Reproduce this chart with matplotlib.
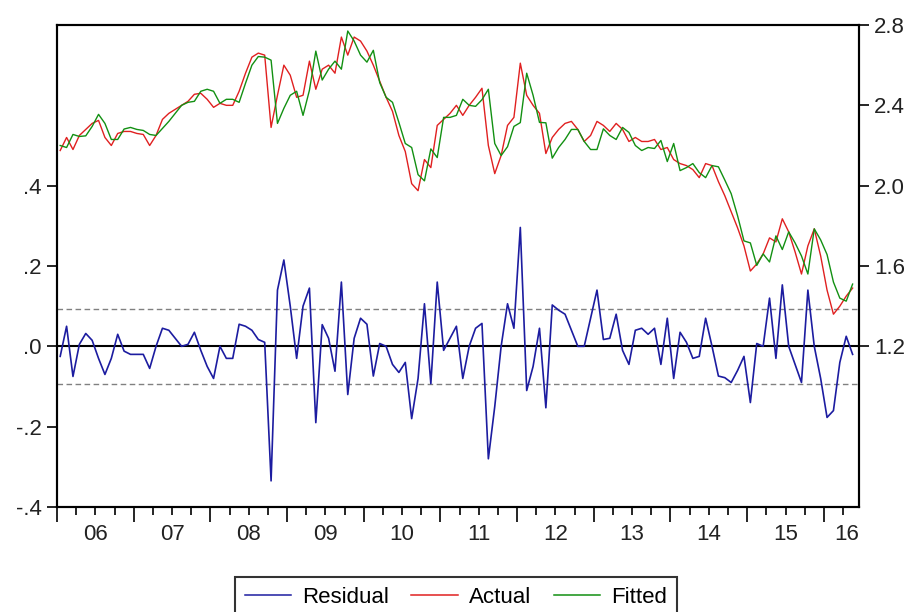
import numpy as np
import pandas as pd
import matplotlib
matplotlib.use("Agg")
import matplotlib.pyplot as plt
from matplotlib.lines import Line2D

plt.rcParams['font.family'] = ['Liberation Sans', 'DejaVu Sans']

# monthly sample 2006M01 - 2016M05
months = pd.period_range("2006-01", periods=125, freq="M")

actual = [
    2.175, 2.24, 2.18, 2.25, 2.28, 2.31, 2.325, 2.24, 2.20, 2.26, 2.27, 2.27,
    2.26, 2.255, 2.20, 2.25, 2.33, 2.36, 2.38, 2.40, 2.42, 2.455, 2.46, 2.43,
    2.39, 2.41, 2.40, 2.40, 2.47, 2.56, 2.64, 2.66, 2.65, 2.29, 2.45, 2.60,
    2.55, 2.44, 2.45, 2.62, 2.48, 2.58, 2.60, 2.56, 2.74, 2.65, 2.74, 2.72,
    2.67, 2.60, 2.52, 2.44, 2.37, 2.25, 2.17, 2.01, 1.975, 2.13, 2.09, 2.30,
    2.33, 2.36, 2.40, 2.35, 2.40, 2.44, 2.485, 2.20, 2.06, 2.15, 2.30, 2.34,
    2.61, 2.45, 2.40, 2.36, 2.16, 2.24, 2.28, 2.31, 2.32, 2.28, 2.22, 2.25,
    2.32, 2.30, 2.27, 2.31, 2.28, 2.22, 2.24, 2.22, 2.22, 2.23, 2.18, 2.19,
    2.13, 2.11, 2.10, 2.08, 2.04, 2.11, 2.10, 2.02, 1.95, 1.87, 1.79, 1.70,
    1.575, 1.61, 1.66, 1.74, 1.72, 1.835, 1.77, 1.67, 1.56, 1.70, 1.785, 1.65,
    1.48, 1.36, 1.40, 1.45, 1.49,
]

fitted = [
    2.20, 2.19, 2.255, 2.245, 2.248, 2.295, 2.355, 2.31, 2.23, 2.23, 2.282, 2.29,
    2.28, 2.275, 2.255, 2.25, 2.285, 2.32, 2.36, 2.40, 2.415, 2.42, 2.47, 2.48,
    2.47, 2.41, 2.43, 2.43, 2.415, 2.51, 2.60, 2.643, 2.64, 2.625, 2.31, 2.385,
    2.45, 2.47, 2.35, 2.475, 2.67, 2.526, 2.58, 2.62, 2.58, 2.77, 2.72, 2.65,
    2.615, 2.674, 2.513, 2.44, 2.415, 2.315, 2.21, 2.19, 2.055, 2.024, 2.183, 2.14,
    2.34, 2.34, 2.35, 2.43, 2.40, 2.395, 2.428, 2.48, 2.21, 2.15, 2.194, 2.295,
    2.314, 2.56, 2.45, 2.315, 2.313, 2.137, 2.19, 2.23, 2.28, 2.28, 2.22, 2.18,
    2.18, 2.283, 2.25, 2.23, 2.29, 2.265, 2.20, 2.175, 2.19, 2.185, 2.225, 2.12,
    2.21, 2.075, 2.09, 2.11, 2.065, 2.04, 2.10, 2.094, 2.028, 1.96, 1.85, 1.725,
    1.715, 1.603, 1.66, 1.62, 1.75, 1.682, 1.77, 1.715, 1.65, 1.56, 1.785, 1.73,
    1.657, 1.52, 1.44, 1.425, 1.51,
]

residual = [
    -0.025, 0.05, -0.075, 0.005, 0.032, 0.015, -0.03, -0.07, -0.03, 0.03, -0.012, -0.02,
    -0.02, -0.02, -0.055, 0.0, 0.045, 0.04, 0.02, 0.0, 0.005, 0.035, -0.01, -0.05,
    -0.08, 0.0, -0.03, -0.03, 0.055, 0.05, 0.04, 0.017, 0.01, -0.335, 0.14, 0.215,
    0.10, -0.03, 0.10, 0.145, -0.19, 0.054, 0.02, -0.062, 0.16, -0.12, 0.02, 0.07,
    0.055, -0.074, 0.007, 0.0, -0.045, -0.065, -0.04, -0.18, -0.08, 0.106, -0.093, 0.16,
    -0.01, 0.02, 0.05, -0.08, 0.0, 0.045, 0.057, -0.28, -0.15, 0.0, 0.106, 0.045,
    0.296, -0.11, -0.05, 0.045, -0.153, 0.103, 0.09, 0.08, 0.04, 0.0, 0.0, 0.07,
    0.14, 0.017, 0.02, 0.08, -0.01, -0.045, 0.04, 0.045, 0.03, 0.045, -0.045, 0.07,
    -0.08, 0.035, 0.01, -0.03, -0.025, 0.07, 0.0, -0.074, -0.078, -0.09, -0.06, -0.025,
    -0.14, 0.007, 0.0, 0.12, -0.03, 0.153, 0.0, -0.045, -0.09, 0.14, 0.0, -0.08,
    -0.177, -0.16, -0.04, 0.025, -0.02,
]

se = 0.094  # regression standard error (dashed bands)

years = list(range(2006, 2017))
year_labels = ["06", "07", "08", "09", "10", "11", "12", "13", "14", "15", "16"]
left_ticks = [-0.4, -0.2, 0.0, 0.2, 0.4]
left_labels = ["-.4", "-.2", ".0", ".2", ".4"]
right_ticks = [1.2, 1.6, 2.0, 2.4, 2.8]

# month midpoints as fractional years
t = months.year + (months.month - 0.5) / 12.0
t_end = 2006 + 125.5 / 12.0

blue, red, green = "#1c1ca0", "#e02020", "#129012"
fs = 16
fig = plt.figure(figsize=(9.09, 6.12), dpi=100)
ax = fig.add_axes([57 / 909, 1 - 507 / 612, 802 / 909, 482 / 612])
ax2 = ax.twinx()

ax.axhline(0, color="black", lw=1.5, zorder=2)
ax.axhline(se, color="#808080", lw=1.0, ls=(0, (4, 2.5)), zorder=1)
ax.axhline(-se, color="#808080", lw=1.0, ls=(0, (4, 2.5)), zorder=1)
ax.plot(t, residual, color=blue, lw=1.2, zorder=3)

ax2.plot(t, actual, color=red, lw=1.0)
ax2.plot(t, fitted, color=green, lw=1.0)

ax.set_xlim(2006, t_end)
ax.set_ylim(-0.4, 0.8)
ax2.set_ylim(0.4, 2.8)

ax.set_yticks(left_ticks)
ax.set_yticklabels(left_labels)
ax2.set_yticks(right_ticks)
ax2.set_yticklabels(["%.1f" % v for v in right_ticks])

# year boundaries (long ticks) and quarters (short ticks)
ax.set_xticks(years)
ax.set_xticklabels([])
ax.set_xticks(np.arange(2006, t_end, 0.25), minor=True)
ax.tick_params(axis="x", which="major", direction="out", length=11, width=1.2)
ax.tick_params(axis="x", which="minor", direction="out", length=6, width=1.2)
ax.tick_params(axis="y", direction="out", length=7, width=1.2, labelsize=fs, pad=4,
               labelcolor="#222222")
ax2.tick_params(axis="y", direction="out", length=7, width=1.2, labelsize=fs, pad=4,
                labelcolor="#222222")

# year labels centred in each year
label_pos = [y + 0.5 for y in years[:-1]] + [2016.3]
sec = ax.secondary_xaxis("bottom")
sec.set_xticks(label_pos)
sec.set_xticklabels(year_labels)
sec.tick_params(length=0, labelsize=fs, pad=12, labelcolor="#222222")
sec.spines["bottom"].set_visible(False)

for a in (ax, ax2):
    for s in a.spines.values():
        s.set_linewidth(1.5)
        s.set_color("black")

handles = [Line2D([], [], color=blue, lw=1.1),
           Line2D([], [], color=red, lw=1.1),
           Line2D([], [], color=green, lw=1.1)]
leg = fig.legend(handles, ["Residual", "Actual", "Fitted"], loc="upper center",
                 bbox_to_anchor=(456 / 909, 1 - 577 / 612), ncol=3, frameon=True,
                 fancybox=False, edgecolor="black", fontsize=fs, handlelength=2.1,
                 handletextpad=0.5, columnspacing=1.0, borderpad=0.45,
                 borderaxespad=0)
leg.get_frame().set_linewidth(1.5)

fig.savefig("out.png", dpi=100)
